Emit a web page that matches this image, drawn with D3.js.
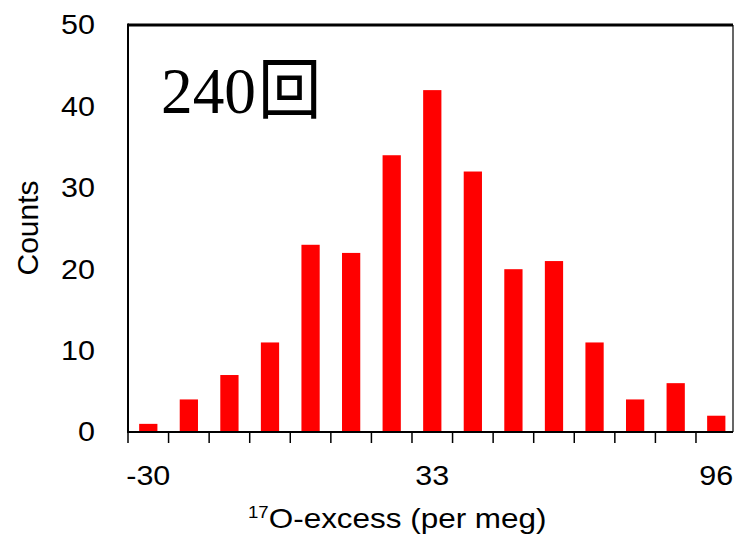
<!DOCTYPE html>
<html>
<head>
<meta charset="utf-8">
<script src="https://cdn.jsdelivr.net/npm/d3@7"></script>
<style>
  body { margin: 0; background: #fff; }
  svg text { font-family: Arial, "Liberation Sans", sans-serif; fill: #000; }
</style>
</head>
<body>
<script>
const w = 735;
const h = 535;

// bin centres (per meg) and counts per bin
const bins = [-30, -21, -12, -3, 6, 15, 24, 33, 42, 51, 60, 69, 78, 87, 96];
const counts = [1, 4, 7, 11, 23, 22, 34, 42, 32, 20, 21, 11, 4, 6, 2];
const xTickLabels = [-30, 33, 96];
const yTicks = [0, 10, 20, 30, 40, 50];
const annotation = "240回";

const plotLeft = 128, plotRight = 733, plotTop = 25, plotBottom = 432;
const sx = 1.13; // reference text is a bit wider than tall

const xScale = d3.scaleBand()
	.domain(bins)
	.range([plotLeft, plotLeft + 15 * 40.57])
	.paddingInner(0.55)
	.paddingOuter(0.275);

const yScale = d3.scaleLinear()
	.domain([0, 50])
	.range([plotBottom, plotTop]);

const svg = d3.select("body")
	.append("svg")
	.attr("width", w)
	.attr("height", h);

// bars
svg.selectAll("rect.bar")
	.data(bins)
	.enter()
	.append("rect")
	.attr("class", "bar")
	.attr("x", (d) => xScale(d))
	.attr("width", xScale.bandwidth())
	.attr("y", (d, i) => yScale(counts[i]))
	.attr("height", (d, i) => yScale(0) - yScale(counts[i]))
	.attr("fill", "#ff0000");

// frame
svg.append("line").attr("x1", plotLeft).attr("x2", plotRight).attr("y1", plotTop).attr("y2", plotTop)
	.attr("stroke", "#000").attr("stroke-width", 3);
svg.append("line").attr("x1", plotRight).attr("x2", plotRight).attr("y1", plotTop).attr("y2", plotBottom)
	.attr("stroke", "#000").attr("stroke-width", 1.2);
svg.append("line").attr("x1", plotLeft).attr("x2", plotLeft).attr("y1", plotTop - 1.5).attr("y2", plotBottom + 1)
	.attr("stroke", "#000").attr("stroke-width", 2);
svg.append("line").attr("x1", plotLeft).attr("x2", plotRight).attr("y1", plotBottom).attr("y2", plotBottom)
	.attr("stroke", "#000").attr("stroke-width", 2);

// x ticks at bin boundaries
const step = xScale.step();
svg.selectAll("line.xtick")
	.data(bins)
	.enter()
	.append("line")
	.attr("class", "xtick")
	.attr("x1", (d) => xScale(d) + xScale.bandwidth() / 2 - step / 2)
	.attr("x2", (d) => xScale(d) + xScale.bandwidth() / 2 - step / 2)
	.attr("y1", plotBottom)
	.attr("y2", plotBottom + 11)
	.attr("stroke", "#000")
	.attr("stroke-width", 1.5);

// x tick labels
svg.selectAll("text.xlab")
	.data(xTickLabels)
	.enter()
	.append("text")
	.attr("class", "xlab")
	.attr("transform", (d) => "translate(" + (xScale(d) + xScale.bandwidth() / 2) + ",485) scale(" + sx + ",1)")
	.attr("text-anchor", "middle")
	.style("font-size", "27px")
	.text((d) => d);

// y tick labels
svg.selectAll("text.ylab")
	.data(yTicks)
	.enter()
	.append("text")
	.attr("class", "ylab")
	.attr("transform", (d) => "translate(95," + yScale(d) + ") scale(" + sx + ",1)")
	.attr("text-anchor", "end")
	.attr("dy", "0.35em")
	.style("font-size", "27px")
	.text((d) => d);

// axis titles
svg.append("text")
	.attr("transform", "translate(38,228) rotate(-90)")
	.attr("text-anchor", "middle")
	.style("font-size", "30px")
	.text("Counts");

const xt = svg.append("text")
	.attr("transform", "translate(248,528) scale(1.165,1)")
	.style("font-size", "27px");
xt.append("tspan").attr("dy", "-10").style("font-size", "16px").text("17");
xt.append("tspan").attr("dy", "10").text("O-excess (per meg)");

// annotation
svg.append("text")
	.attr("transform", "translate(161,113) scale(0.96,1)")
	.style("font-family", "'Liberation Serif', 'Times New Roman', serif")
	.style("font-size", "66px")
	.text(annotation.slice(0, 3))
	.append("tspan")
	.style("font-family", "'Noto Sans CJK JP', sans-serif")
	.attr("dx", 2)
	.text(annotation.slice(3));
</script>
</body>
</html>
